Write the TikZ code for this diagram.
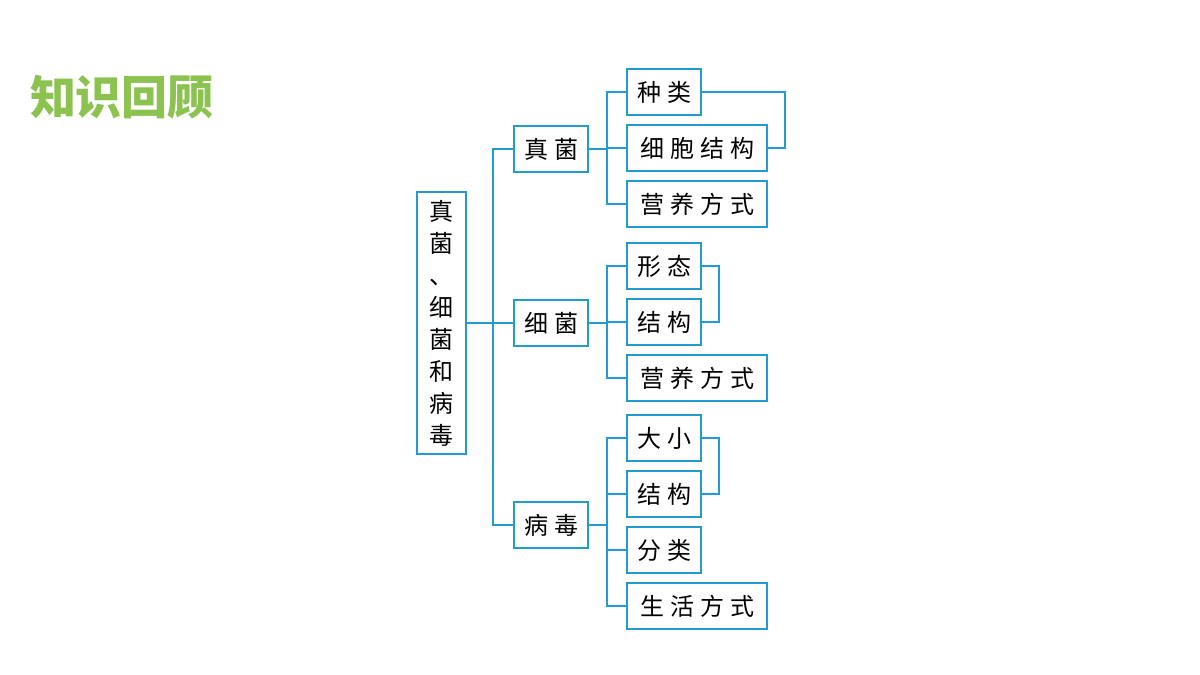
\documentclass[tikz,border=0pt]{standalone}
\usepackage{fontspec}
\newfontfamily\cjk[LetterSpace=25]{Noto Sans CJK SC}
\newfontfamily\cjktitle{Noto Sans CJK SC}
\definecolor{lineblue}{RGB}{35,155,210}
\definecolor{titlegreen}{RGB}{140,195,80}
\begin{document}
\begin{tikzpicture}[x=0.5pt,y=-0.5pt,thick,
  box/.style={rectangle,draw=lineblue,line width=1pt,font=\cjk\fontsize{12}{14}\selectfont,
    minimum height=23pt,inner sep=2pt},
  short/.style={box,minimum width=37pt},
  long/.style={box,minimum width=70pt},
  link/.style={draw=lineblue,line width=1pt}]
  \useasboundingbox (0,0) rectangle (1200,675);

  \node[font=\cjktitle\bfseries\fontsize{23}{26}\selectfont,text=titlegreen] (T) at (122,97) {知识回顾};

  \node[box,minimum width=24.5pt,minimum height=131pt,align=center,
    font=\cjktitle\fontsize{12}{16}\selectfont] (M) at (441.5,323) {真\\菌\\、\\细\\菌\\和\\病\\毒};

  % second level
  \node[short] (F) at (551,149) {真菌};
  \node[short] (B) at (551,323) {细菌};
  \node[short] (V) at (551,525) {病毒};

  % fungi
  \node[short] (F1) at (664,92) {种类};
  \node[long]  (F2) at (697,148) {细胞结构};
  \node[long]  (F3) at (697,204) {营养方式};
  % bacteria
  \node[short] (B1) at (664,266) {形态};
  \node[short] (B2) at (664,322) {结构};
  \node[long]  (B3) at (697,378) {营养方式};
  % viruses
  \node[short] (V1) at (664,438) {大小};
  \node[short] (V2) at (664,494) {结构};
  \node[short] (V3) at (664,550) {分类};
  \node[long]  (V4) at (697,606) {生活方式};

  % trunk
  \draw[link] (M.east) -- (493,323);
  \draw[link] (F.west) -| (493,323) |- (V.west);
  \draw[link] (493,323) -- (B.west);
  % branches
  \draw[link] (F.east) -- (607,149);
  \draw[link] (F1.west) -| (607,149) |- (F3.west);
  \draw[link] (607,148) -- (F2.west);
  \draw[link] (B.east) -- (607,323);
  \draw[link] (B1.west) -| (607,323) |- (B3.west);
  \draw[link] (607,322) -- (B2.west);
  \draw[link] (V.east) -- (607,525);
  \draw[link] (V1.west) -| (607,525) |- (V4.west);
  \draw[link] (607,494) -- (V2.west);
  \draw[link] (607,550) -- (V3.west);
  % brackets
  \draw[link] (F1.east) -| (785,148) -- (F2.east);
  \draw[link] (B1.east) -| (719,322) -- (B2.east);
  \draw[link] (V1.east) -| (719,494) -- (V2.east);
\end{tikzpicture}
\end{document}
